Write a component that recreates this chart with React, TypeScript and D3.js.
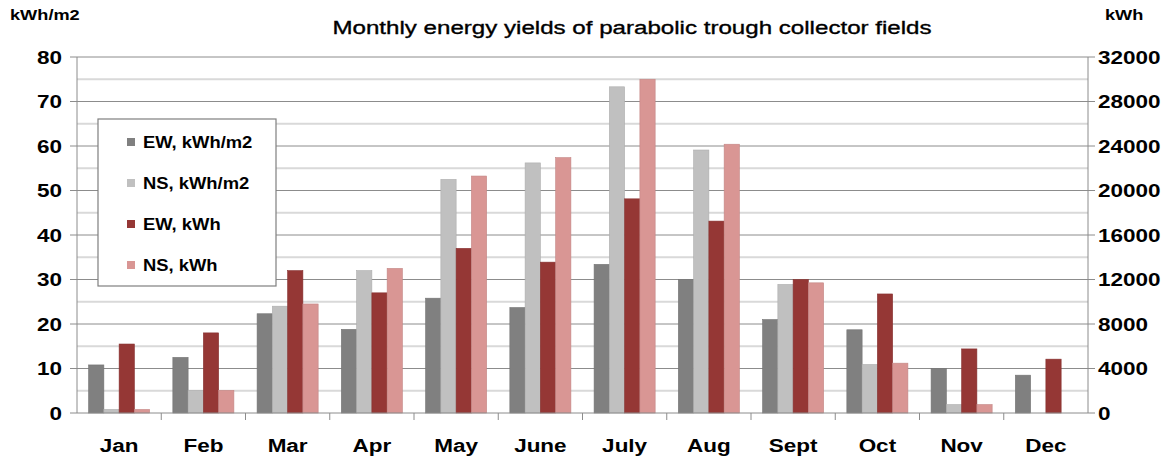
import React, { useEffect, useRef } from 'react';
import * as d3 from 'd3';

const months = ['Jan', 'Feb', 'Mar', 'Apr', 'May', 'June', 'July', 'Aug', 'Sept', 'Oct', 'Nov', 'Dec'];
const ewArea = [10.8, 12.5, 22.3, 18.8, 25.8, 23.7, 33.4, 30.0, 21.0, 18.7, 10.0, 8.5];
const nsArea = [0.8, 5.1, 24.0, 32.0, 52.5, 56.2, 73.3, 59.1, 28.9, 10.9, 1.9, 0];
const ewTotal = [6200, 7200, 12800, 10800, 14800, 13560, 19250, 17250, 12000, 10700, 5760, 4840];
const nsTotal = [320, 2040, 9800, 13000, 21300, 22960, 30000, 24160, 11700, 4480, 760, 0];
const leftTicks = [0, 10, 20, 30, 40, 50, 60, 70, 80];
const rightTicks = [0, 4000, 8000, 12000, 16000, 20000, 24000, 28000, 32000];
const seriesNames = ['EW, kWh/m2', 'NS, kWh/m2', 'EW, kWh', 'NS, kWh'];
const colors = ['#808080', '#c0c0c0', '#953735', '#d99694'];

function App() {
  const svgRef = useRef<SVGSVGElement>(null);

  useEffect(() => {
    const width = 1176;
    const height = 465;
    const margin = { top: 57, right: 88, bottom: 52, left: 77 };
    const w = width - margin.left - margin.right;
    const h = height - margin.top - margin.bottom;
    const sx = 1.25; // the original text is drawn wide

    const svg = d3.select(svgRef.current);
    svg.selectAll('*').remove();
    svg.attr('width', width).attr('height', height);

    const g = svg.append('g').attr('transform', `translate(${margin.left},${margin.top})`);

    const x = d3.scaleBand().domain(months).range([0, w]).paddingInner(0).paddingOuter(0);
    const yL = d3.scaleLinear().domain([0, 80]).range([h, 0]);
    const yR = d3.scaleLinear().domain([0, 32000]).range([h, 0]);

    // minor grid
    g.selectAll('.minor')
      .data(d3.range(5, 80, 10))
      .enter()
      .append('line')
      .attr('x1', 0)
      .attr('x2', w)
      .attr('y1', (d) => yL(d))
      .attr('y2', (d) => yL(d))
      .attr('stroke', '#d9d9d9')
      .attr('stroke-width', 2);

    // major grid
    g.selectAll('.major')
      .data(leftTicks.slice(1))
      .enter()
      .append('line')
      .attr('x1', 0)
      .attr('x2', w)
      .attr('y1', (d) => yL(d))
      .attr('y2', (d) => yL(d))
      .attr('stroke', '#8c8c8c')
      .attr('stroke-width', 1);

    const inner = d3.scaleBand().domain(d3.range(4).map(String)).range([0, x.bandwidth()]).paddingOuter(0.76).paddingInner(0);

    const series = [ewArea, nsArea, ewTotal, nsTotal];
    series.forEach((vals, si) => {
      const yy = si < 2 ? yL : yR;
      g.selectAll(`.bar${si}`)
        .data(vals)
        .enter()
        .append('rect')
        .attr('x', (_d, i) => (x(months[i]) as number) + (inner(String(si)) as number))
        .attr('width', inner.bandwidth())
        .attr('y', (d) => yy(d))
        .attr('height', (d) => h - yy(d))
        .attr('fill', colors[si])
        .attr('stroke', d3.color(colors[si])!.darker(0.3).toString())
        .attr('stroke-width', 0.6);
    });

    // axis lines
    g.append('line').attr('x1', 0).attr('x2', 0).attr('y1', 0).attr('y2', h).attr('stroke', '#8c8c8c');
    g.append('line').attr('x1', w).attr('x2', w).attr('y1', 0).attr('y2', h).attr('stroke', '#8c8c8c');
    g.append('line').attr('x1', 0).attr('x2', w).attr('y1', h).attr('y2', h).attr('stroke', '#8c8c8c');

    // left ticks
    leftTicks.forEach((t) => {
      g.append('line').attr('x1', -7).attr('x2', 0).attr('y1', yL(t)).attr('y2', yL(t)).attr('stroke', '#8c8c8c');
      g.append('text')
        .attr('transform', `translate(-15,${yL(t) + 6.5}) scale(${sx},1)`)
        .attr('text-anchor', 'end')
        .attr('font-size', 18)
        .attr('font-weight', 'bold')
        .text(t);
    });

    // right ticks
    rightTicks.forEach((t) => {
      g.append('line').attr('x1', w).attr('x2', w + 7).attr('y1', yR(t)).attr('y2', yR(t)).attr('stroke', '#8c8c8c');
      g.append('text')
        .attr('transform', `translate(${w + 10},${yR(t) + 6.5}) scale(${sx},1)`)
        .attr('text-anchor', 'start')
        .attr('font-size', 18)
        .attr('font-weight', 'bold')
        .text(t);
    });

    // category ticks and labels
    months.forEach((m, i) => {
      const x0 = x(m) as number;
      if (i > 0) {
        g.append('line').attr('x1', x0).attr('x2', x0).attr('y1', h).attr('y2', h + 7).attr('stroke', '#8c8c8c');
      }
      g.append('text')
        .attr('transform', `translate(${x0 + x.bandwidth() / 2},${h + 39}) scale(${sx},1)`)
        .attr('text-anchor', 'middle')
        .attr('font-size', 18)
        .attr('font-weight', 'bold')
        .text(m);
    });

    // title and unit labels
    svg.append('text')
      .attr('transform', `translate(632,34) scale(1.27,1)`)
      .attr('text-anchor', 'middle')
      .attr('font-size', 19)
      .attr('stroke', '#000')
      .attr('stroke-width', 0.35)
      .text('Monthly energy yields of parabolic trough collector fields');

    svg.append('text')
      .attr('transform', `translate(10,20) scale(1.3,1)`)
      .attr('font-size', 14)
      .attr('font-weight', 'bold')
      .text('kWh/m2');

    svg.append('text')
      .attr('transform', `translate(1105,20) scale(1.3,1)`)
      .attr('font-size', 14)
      .attr('font-weight', 'bold')
      .text('kWh');

    // legend
    const lg = svg.append('g').attr('transform', 'translate(98,119)');
    lg.append('rect').attr('width', 178).attr('height', 167).attr('fill', '#fff').attr('stroke', '#7f7f7f').attr('stroke-width', 1.2);
    seriesNames.forEach((n, i) => {
      const cy = 23 + i * 41;
      lg.append('rect').attr('x', 29).attr('y', cy - 4).attr('width', 8).attr('height', 8).attr('fill', colors[i]);
      lg.append('text')
        .attr('transform', `translate(45,${cy + 6}) scale(1.15,1)`)
        .attr('font-size', 16)
        .attr('font-weight', 'bold')
        .text(n);
    });
  }, []);

  return (
    <div style={{ position: 'absolute', left: 0, top: 0 }}>
      <svg ref={svgRef} style={{ display: 'block', fontFamily: 'Liberation Sans, Arial, sans-serif' }}></svg>
    </div>
  );
}

export default App;
